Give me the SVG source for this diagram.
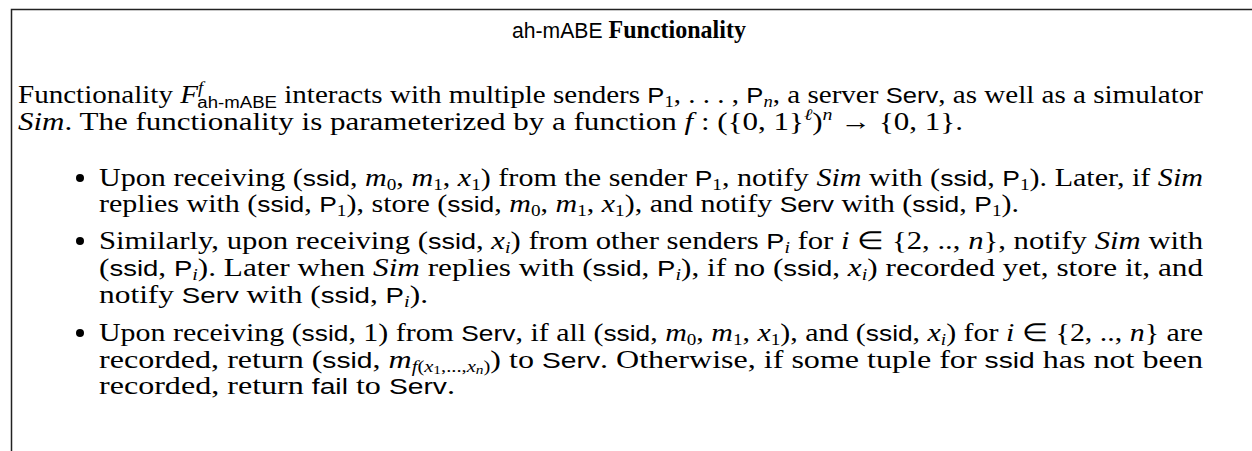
<svg xmlns="http://www.w3.org/2000/svg" width="1252" height="451" viewBox="0 0 1252 451">
<style>
.t{font-family:"Liberation Serif","Times New Roman",serif;font-size:25px;fill:#000}
.sf{font-family:"Liberation Sans",Arial,sans-serif;font-size:22px}
.i{font-style:italic}
.s{font-size:16px}
.b{font-weight:bold}
.frame{fill:none;stroke:#222;stroke-width:1.5}
</style>
<rect width="1252" height="451" fill="#fff"/>
<path class="frame" d="M11.5,451 V9.5 H1252"/>
<g id="title">
<text class="t" x="512" y="38" textLength="234" lengthAdjust="spacingAndGlyphs"><tspan class="sf">ah-mABE</tspan> <tspan class="b">Functionality</tspan></text>
</g>
<g id="intro">
<text class="t" x="18" y="103" textLength="1185" lengthAdjust="spacingAndGlyphs">Functionality <tspan class="i">F</tspan><tspan class="i s" dy="-10">f</tspan><tspan class="sf s" dx="-5" dy="15">ah-mABE</tspan><tspan dy="-5"> interacts with multiple senders </tspan><tspan class="sf">P</tspan><tspan class="s" dy="4">1</tspan><tspan dy="-4">, . . . , </tspan><tspan class="sf">P</tspan><tspan class="s i" dy="4">n</tspan><tspan dy="-4">, a server </tspan><tspan class="sf">Serv</tspan>, as well as a simulator</text>
<text class="t" x="18" y="130" textLength="945" lengthAdjust="spacingAndGlyphs"><tspan class="i">Sim</tspan>. The functionality is parameterized by a function <tspan class="i">f</tspan> : ({0, 1}<tspan class="s i" dy="-10">ℓ</tspan><tspan dy="10">)</tspan><tspan class="s i" dy="-10">n</tspan><tspan dy="10"> → {0, 1}.</tspan></text>
</g>
<g id="item1">
<circle cx="80" cy="178" r="4"/>
<text class="t" x="99" y="186" textLength="1104" lengthAdjust="spacingAndGlyphs">Upon receiving (<tspan class="sf">ssid</tspan>, <tspan class="i">m</tspan><tspan class="s" dy="4">0</tspan><tspan dy="-4">, </tspan><tspan class="i">m</tspan><tspan class="s" dy="4">1</tspan><tspan dy="-4">, </tspan><tspan class="i">x</tspan><tspan class="s" dy="4">1</tspan><tspan dy="-4">) from the sender </tspan><tspan class="sf">P</tspan><tspan class="s" dy="4">1</tspan><tspan dy="-4">, notify </tspan><tspan class="i">Sim</tspan> with (<tspan class="sf">ssid</tspan>, <tspan class="sf">P</tspan><tspan class="s" dy="4">1</tspan><tspan dy="-4">). Later, if </tspan><tspan class="i">Sim</tspan></text>
<text class="t" x="99" y="212" textLength="920" lengthAdjust="spacingAndGlyphs">replies with (<tspan class="sf">ssid</tspan>, <tspan class="sf">P</tspan><tspan class="s" dy="4">1</tspan><tspan dy="-4">), store (</tspan><tspan class="sf">ssid</tspan>, <tspan class="i">m</tspan><tspan class="s" dy="4">0</tspan><tspan dy="-4">, </tspan><tspan class="i">m</tspan><tspan class="s" dy="4">1</tspan><tspan dy="-4">, </tspan><tspan class="i">x</tspan><tspan class="s" dy="4">1</tspan><tspan dy="-4">), and notify </tspan><tspan class="sf">Serv</tspan> with (<tspan class="sf">ssid</tspan>, <tspan class="sf">P</tspan><tspan class="s" dy="4">1</tspan><tspan dy="-4">).</tspan></text>
</g>
<g id="item2">
<circle cx="80" cy="241" r="4"/>
<text class="t" x="99" y="249" textLength="1104" lengthAdjust="spacingAndGlyphs">Similarly, upon receiving (<tspan class="sf">ssid</tspan>, <tspan class="i">x</tspan><tspan class="s i" dy="4">i</tspan><tspan dy="-4">) from other senders </tspan><tspan class="sf">P</tspan><tspan class="s i" dy="4">i</tspan><tspan dy="-4"> for </tspan><tspan class="i">i</tspan> ∈ {2, .., <tspan class="i">n</tspan>}, notify <tspan class="i">Sim</tspan> with</text>
<text class="t" x="99" y="276" textLength="1104" lengthAdjust="spacingAndGlyphs">(<tspan class="sf">ssid</tspan>, <tspan class="sf">P</tspan><tspan class="s i" dy="4">i</tspan><tspan dy="-4">). Later when </tspan><tspan class="i">Sim</tspan> replies with (<tspan class="sf">ssid</tspan>, <tspan class="sf">P</tspan><tspan class="s i" dy="4">i</tspan><tspan dy="-4">), if no (</tspan><tspan class="sf">ssid</tspan>, <tspan class="i">x</tspan><tspan class="s i" dy="4">i</tspan><tspan dy="-4">) recorded yet, store it, and</tspan></text>
<text class="t" x="99" y="303" textLength="329" lengthAdjust="spacingAndGlyphs">notify <tspan class="sf">Serv</tspan> with (<tspan class="sf">ssid</tspan>, <tspan class="sf">P</tspan><tspan class="s i" dy="4">i</tspan><tspan dy="-4">).</tspan></text>
</g>
<g id="item3">
<circle cx="80" cy="333" r="4"/>
<text class="t" x="99" y="341" textLength="1104" lengthAdjust="spacingAndGlyphs">Upon receiving (<tspan class="sf">ssid</tspan>, 1) from <tspan class="sf">Serv</tspan>, if all (<tspan class="sf">ssid</tspan>, <tspan class="i">m</tspan><tspan class="s" dy="4">0</tspan><tspan dy="-4">, </tspan><tspan class="i">m</tspan><tspan class="s" dy="4">1</tspan><tspan dy="-4">, </tspan><tspan class="i">x</tspan><tspan class="s" dy="4">1</tspan><tspan dy="-4">), and (</tspan><tspan class="sf">ssid</tspan>, <tspan class="i">x</tspan><tspan class="s i" dy="4">i</tspan><tspan dy="-4">) for </tspan><tspan class="i">i</tspan> ∈ {2, .., <tspan class="i">n</tspan>} are</text>
<text class="t" x="99" y="368" textLength="1104" lengthAdjust="spacingAndGlyphs">recorded, return (<tspan class="sf">ssid</tspan>, <tspan class="i">m</tspan><tspan class="s" dy="4"><tspan class="i">f</tspan>(<tspan class="i">x</tspan></tspan><tspan style="font-size:12px" dy="2">1</tspan><tspan class="s" dy="-2">,...,<tspan class="i">x</tspan></tspan><tspan class="i" style="font-size:12px" dy="2">n</tspan><tspan class="s" dy="-2">)</tspan><tspan dy="-4">) to </tspan><tspan class="sf">Serv</tspan>. Otherwise, if some tuple for <tspan class="sf">ssid</tspan> has not been</text>
<text class="t" x="99" y="394" textLength="356" lengthAdjust="spacingAndGlyphs">recorded, return <tspan class="sf">fail</tspan> to <tspan class="sf">Serv</tspan>.</text>
</g>
</svg>
